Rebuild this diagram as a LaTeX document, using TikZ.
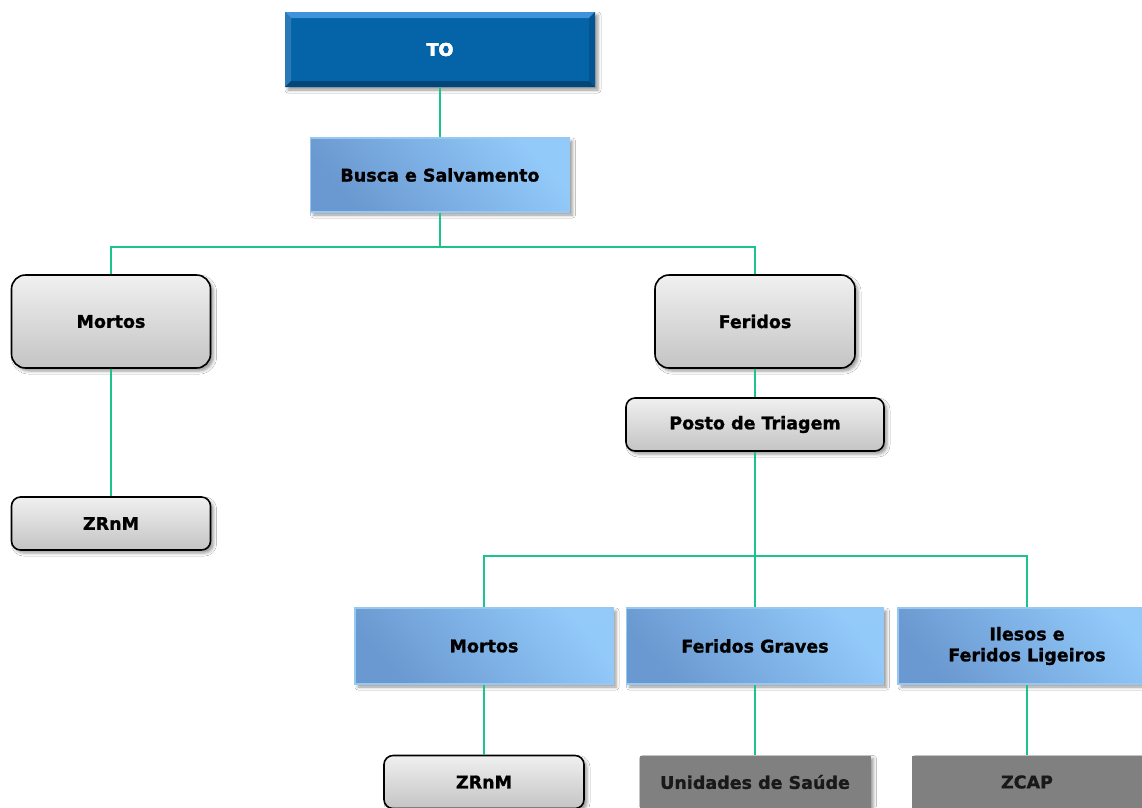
\documentclass[tikz,border=0pt]{standalone}
\usepackage{fontspec}
\setmainfont{DejaVu Sans}[BoldFeatures={FakeBold=1.2}]
\usetikzlibrary{shadows.blur}

\definecolor{linkgreen}{RGB}{26,196,140}
\definecolor{toblue}{RGB}{5,99,168}
\definecolor{tolight}{RGB}{64,146,218}
\definecolor{todark}{RGB}{3,70,122}
\definecolor{toside}{RGB}{4,84,145}
\definecolor{bluelight}{RGB}{146,202,250}
\definecolor{bluedark}{RGB}{106,152,208}
\definecolor{blueedge}{RGB}{150,200,242}
\definecolor{graytop}{RGB}{240,240,240}
\definecolor{graybot}{RGB}{196,196,196}
\definecolor{darkbox}{RGB}{128,128,128}

\tikzset{
  x=1pt, y=-1pt,
  boxtext/.style={font=\fontsize{17.5}{21}\selectfont\bfseries, align=center, inner sep=0pt},
  softshadow/.style={blur shadow={shadow xshift=3pt, shadow yshift=-3pt,
      shadow blur radius=3pt, shadow opacity=40}},
  bluebox/.style={boxtext, softshadow, draw=blueedge, line width=1.2pt,
      top color=bluelight, bottom color=bluedark, shading angle=-50},
  graybox/.style={boxtext, softshadow, draw=black, line width=1.6pt,
      top color=graytop, bottom color=graybot},
  darkgraybox/.style={boxtext, softshadow, fill=darkbox, text=black!90},
  link/.style={draw=linkgreen, line width=2pt},
}

\begin{document}
\begin{tikzpicture}
\useasboundingbox[fill=white] (0,0) rectangle (1142,807);

% top box with bevelled edges
\node[boxtext, softshadow, fill=toblue, minimum width=310pt, minimum height=75pt,
      text=white] (to) at (440,49.5) {TO};
\fill[tolight] (285,12) -- (595,12) -- (589,18) -- (291,18) -- cycle;
\fill[toblue!85!white] (285,12) -- (291,18) -- (291,81) -- (285,87) -- cycle;
\fill[toside] (595,12) -- (595,87) -- (589,81) -- (589,18) -- cycle;
\fill[todark] (285,87) -- (595,87) -- (589,81) -- (291,81) -- cycle;
\node[boxtext, text=white] at (to.center) {TO};

% second level
\node[bluebox, minimum width=259pt, minimum height=74pt] (busca) at (440,175) {Busca e Salvamento};

% branches
\node[graybox, rounded corners=14pt, minimum width=199pt, minimum height=93pt] (mortosA) at (111,321.5) {Mortos};
\node[graybox, rounded corners=14pt, minimum width=200pt, minimum height=93pt] (feridos) at (755,321.5) {Feridos};

\node[graybox, rounded corners=9pt, minimum width=199pt, minimum height=53pt] (zrnmA) at (111,523.5) {ZRnM};
\node[graybox, rounded corners=9pt, minimum width=258pt, minimum height=53pt] (posto) at (755,424.5) {Posto de Triagem};

% triage outcomes
\node[bluebox, minimum width=258pt, minimum height=76pt] (mortosB) at (484,646) {Mortos};
\node[bluebox, minimum width=257pt, minimum height=76pt] (graves) at (755,646) {Feridos Graves};
\node[bluebox, minimum width=258pt, minimum height=76pt] (ilesos) at (1027,646) {Ilesos e\\Feridos Ligeiros};

% destinations
\node[graybox, rounded corners=9pt, minimum width=200pt, minimum height=53pt] (zrnmB) at (484,782) {ZRnM};
\node[darkgraybox, minimum width=231pt, minimum height=53pt] (saude) at (755,782) {Unidades de Saúde};
\node[darkgraybox, minimum width=230pt, minimum height=53pt] (zcap) at (1027,782) {ZCAP};

% connectors
\coordinate (j1) at (440,247);
\coordinate (j2) at (755,556);
\draw[link] (to.south) -- (busca.north);
\draw[link] (busca.south) -- (j1);
\draw[link] (j1) -| (mortosA.north);
\draw[link] (j1) -| (feridos.north);
\draw[link] (mortosA.south) -- (zrnmA.north);
\draw[link] (feridos.south) -- (posto.north);
\draw[link] (posto.south) -- (graves.north);
\draw[link] (j2) -| (mortosB.north);
\draw[link] (j2) -| (ilesos.north);
\draw[link] (mortosB.south) -- (zrnmB.north);
\draw[link] (graves.south) -- (saude.north);
\draw[link] (ilesos.south) -- (zcap.north);
\end{tikzpicture}
\end{document}
